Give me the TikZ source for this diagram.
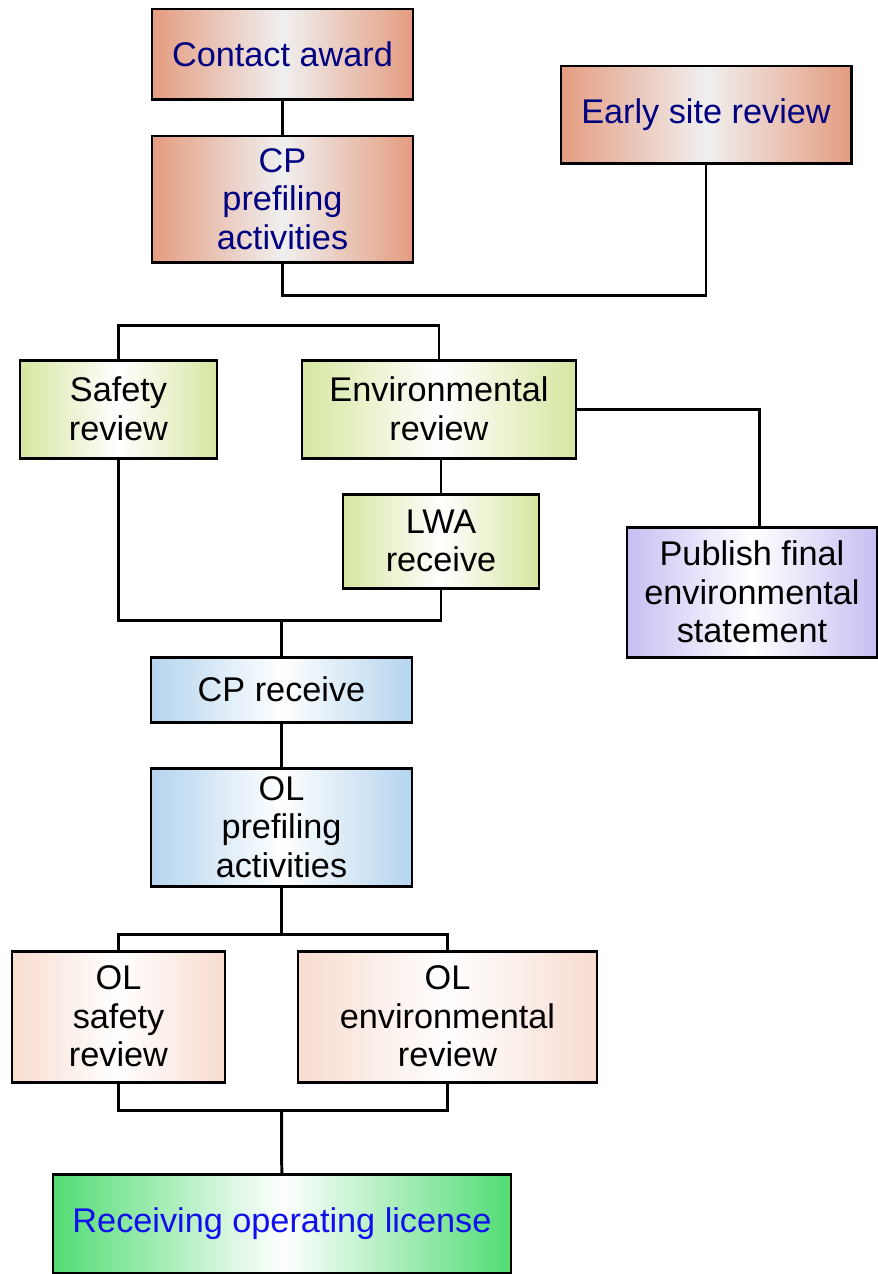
\documentclass[tikz,border=0pt]{standalone}
\usepackage{fontspec}
\setmainfont{Liberation Sans}
\usepackage{tikz}
\usetikzlibrary{positioning,calc}
\definecolor{salmon}{HTML}{E49C80}
\definecolor{lime}{HTML}{D6E6A0}
\definecolor{lilac}{HTML}{C8BEF2}
\definecolor{sky}{HTML}{B4D4EE}
\definecolor{blush}{HTML}{F8DCD0}
\definecolor{mint}{HTML}{52DC74}
\definecolor{navy}{HTML}{000080}
\definecolor{vivid}{HTML}{1010EE}
\tikzset{
  base/.style={draw=black, line width=1.7pt, align=center, inner sep=2pt, text=black,
    font=\fontsize{19.5}{22}\selectfont},
  tone/.style={base, left color=#1, right color=#1, middle color=white},
  warm/.style={base, left color=salmon, right color=salmon, middle color=gray!12, text=navy},
  link/.style={line width=1.7pt, draw=black},
}

\begin{document}
\begin{tikzpicture}
    \useasboundingbox (0,0) rectangle (17.56,-25.48);
    % first phase
    \node[warm, minimum width=5.22cm, minimum height=1.80cm] (ca) at (5.65,-1.08) {Contact award};
    \node[warm, minimum width=5.22cm, minimum height=2.52cm] (cpp) at (5.65,-3.98) {CP\\prefiling\\activities};
    \node[warm, minimum width=5.80cm, minimum height=1.94cm] (esr) at (14.12,-2.29) {Early site review};
    % reviews
    \node[tone=lime, minimum width=3.94cm, minimum height=1.96cm] (sr) at (2.37,-8.18) {Safety\\review};
    \node[tone=lime, minimum width=5.48cm, minimum height=1.96cm] (er) at (8.78,-8.18) {Environmental\\review};
    \node[tone=lime, minimum width=3.92cm, minimum height=1.88cm] (lwa) at (8.82,-10.82) {LWA\\receive};
    \node[tone=lilac, minimum width=5.00cm, minimum height=2.60cm] (pub) at (15.04,-11.84) {Publish final\\environmental\\statement};
    % operating licence
    \node[tone=sky, minimum width=5.22cm, minimum height=1.30cm] (cpr) at (5.63,-13.79) {CP receive};
    \node[tone=sky, minimum width=5.22cm, minimum height=2.36cm] (olp) at (5.63,-16.54) {OL\\prefiling\\activities};
    \node[tone=blush, minimum width=4.26cm, minimum height=2.62cm] (ols) at (2.37,-20.33) {OL\\safety\\review};
    \node[tone=blush, minimum width=5.98cm, minimum height=2.62cm] (ole) at (8.95,-20.33) {OL\\environmental\\review};
    \node[tone=mint, text=vivid, minimum width=9.16cm, minimum height=1.98cm] (rol) at (5.64,-24.48) {Receiving operating license};

    \coordinate (j1) at (5.63,-12.40);
    \coordinate (j2) at (5.63,-18.68);
    \coordinate (j3) at (5.63,-22.20);
    \coordinate (j4) at ($(pub.north)+(0.14,0)$);

    \draw[link] (ca) -- (cpp);
    \draw[link] (cpp.south) -- ++(0,-0.64) -| (esr.south);
    \draw[link] (sr.north) -- ++(0,0.66) -| (er.north);
    \draw[link] (er.east) -| (j4);
    \draw[link] (lwa.north) -- (lwa.north |- er.south);
    \draw[link] (sr.south) |- (j1) -| (lwa.south);
    \draw[link] (j1) -- (cpr);
    \draw[link] (cpr) -- (olp);
    \draw[link] (olp) -- (j2);
    \draw[link] (ols.north) |- (j2) -| (ole.north);
    \draw[link] (ols.south) |- (j3) -| (ole.south);
    \draw[link] (j3) -- (rol);
  \end{tikzpicture}
\end{document}
